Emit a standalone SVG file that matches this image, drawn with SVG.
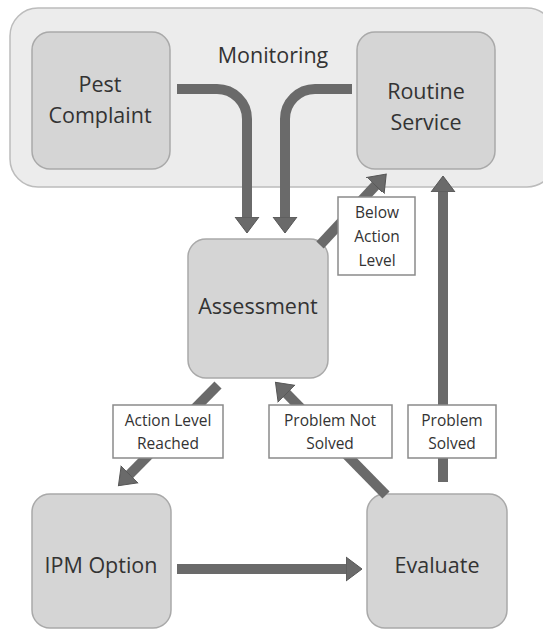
<svg xmlns="http://www.w3.org/2000/svg" width="543" height="631" viewBox="0 0 543 631">
<style>
.node{fill:#d5d5d5;stroke:#a9a9a9;stroke-width:1.5}
.cont{fill:#ececec;stroke:#bcbcbc;stroke-width:1.5}
.t{font-family:"Open Sans","Noto Sans",sans-serif;fill:#333;text-anchor:middle}
.big{font-size:21.5px}
.lab{font-size:15.5px}
.lbox{fill:#fff;stroke:#8a8a8a;stroke-width:1.5}
.arr{fill:none;stroke:#6a6a6a;stroke-width:10;marker-end:url(#head)}
</style>
<defs>
<marker id="head" markerUnits="userSpaceOnUse" viewBox="0 -13 18 26" refX="1" refY="0" markerWidth="18" markerHeight="26" orient="auto">
<path d="M0,-12 L16,0 L0,12 z" fill="#6a6a6a" stroke="#555" stroke-width="1"/>
</marker>
</defs>
<g id="monitoring">
<rect class="cont" x="10" y="8" width="545" height="179" rx="28"/>
<text class="t big" x="273" y="63">Monitoring</text>
</g>
<g id="pest-complaint">
<rect class="node" x="32" y="32" width="138" height="137" rx="18"/>
<text class="t big" x="100" y="92">Pest</text>
<text class="t big" x="100" y="123">Complaint</text>
</g>
<g id="routine-service">
<rect class="node" x="357" y="32" width="138" height="137" rx="18"/>
<text class="t big" x="426" y="99">Routine</text>
<text class="t big" x="426" y="130">Service</text>
</g>
<g id="assessment">
<rect class="node" x="188" y="239" width="140" height="139" rx="18"/>
<text class="t big" x="258" y="314">Assessment</text>
</g>
<g id="ipm-option">
<rect class="node" x="32" y="494" width="139" height="134" rx="18"/>
<text class="t big" x="101" y="573">IPM Option</text>
</g>
<g id="evaluate">
<rect class="node" x="367" y="494" width="140" height="134" rx="18"/>
<text class="t big" x="437" y="573">Evaluate</text>
</g>
<g id="connectors">
<path class="arr" d="M177,89 H217 A30,30 0 0 1 247,119 V218"/>
<path class="arr" d="M352,89 H315 A30,30 0 0 0 285,119 V218"/>
<path class="arr" d="M320,245 L376,185"/>
<path class="arr" d="M443,482 V191"/>
<path class="arr" d="M218,385 L129,475"/>
<path class="arr" d="M386,495 L286,393"/>
<path class="arr" d="M177,569 H347"/>
</g>
<g id="label-below">
<rect class="lbox" x="338" y="197" width="77" height="78"/>
<text class="t lab" x="377" y="218">Below</text>
<text class="t lab" x="377" y="242">Action</text>
<text class="t lab" x="377" y="266">Level</text>
</g>
<g id="label-reached">
<rect class="lbox" x="113" y="405" width="110" height="53"/>
<text class="t lab" x="168" y="426">Action Level</text>
<text class="t lab" x="168" y="449">Reached</text>
</g>
<g id="label-not-solved">
<rect class="lbox" x="269" y="405" width="123" height="53"/>
<text class="t lab" x="330" y="426">Problem Not</text>
<text class="t lab" x="330" y="449">Solved</text>
</g>
<g id="label-solved">
<rect class="lbox" x="408" y="405" width="88" height="53"/>
<text class="t lab" x="452" y="426">Problem</text>
<text class="t lab" x="452" y="449">Solved</text>
</g>
</svg>
